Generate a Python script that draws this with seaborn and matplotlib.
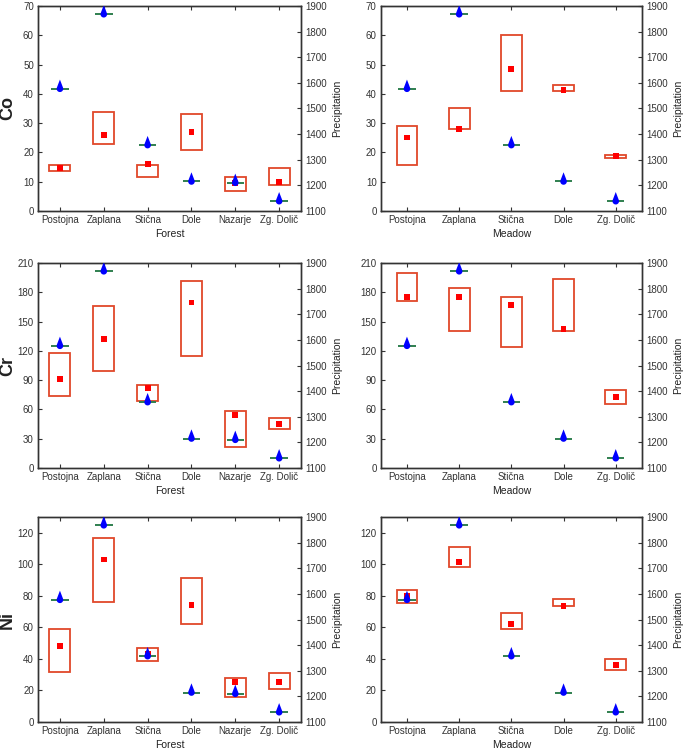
import numpy as np
import pandas as pd
import seaborn as sns
import matplotlib.pyplot as plt
from matplotlib.path import Path

# sites and precipitation (right axis)
sites_forest = ["Postojna", "Zaplana", "Stična", "Dole", "Nazarje", "Zg. Dolič"]
sites_meadow = ["Postojna", "Zaplana", "Stična", "Dole", "Zg. Dolič"]
precip_forest = [1577, 1868, 1357, 1215, 1210, 1138]
precip_meadow = [1577, 1868, 1357, 1215, 1138]

# Co
co_forest_low = [13.6, 22.7, 11.5, 20.7, 6.8, 8.8]
co_forest_high = [15.8, 33.9, 15.7, 33.0, 11.7, 14.8]
co_forest_mean = [14.7, 25.9, 15.9, 27.0, 9.5, 9.8]
co_meadow_low = [15.6, 27.9, 41.0, 41.0, 18.0]
co_meadow_high = [29.0, 35.0, 60.2, 43.0, 19.0]
co_meadow_mean = [25.1, 28.1, 48.6, 41.2, 18.9]

# Cr
cr_forest_low = [73.8, 99.5, 68.6, 114.3, 21.5, 40.0]
cr_forest_high = [117.7, 166.5, 85.1, 191.6, 58.8, 51.2]
cr_forest_mean = [91.0, 132.5, 82.0, 169.6, 54.1, 44.8]
cr_meadow_low = [170.7, 140.0, 124.3, 140.0, 66.0]
cr_meadow_high = [199.4, 184.7, 175.2, 193.3, 79.5]
cr_meadow_mean = [175.5, 175.5, 167.0, 142.4, 73.0]

# Ni
ni_forest_low = [31.5, 76.3, 38.9, 62.4, 16.0, 21.0]
ni_forest_high = [58.9, 116.6, 46.9, 91.6, 28.2, 31.2]
ni_forest_mean = [48.4, 103.1, 43.3, 74.1, 25.5, 25.2]
ni_meadow_low = [75.4, 98.3, 59.0, 73.3, 32.9]
ni_meadow_high = [83.5, 111.3, 69.0, 78.0, 40.0]
ni_meadow_mean = [80.0, 101.5, 62.0, 73.5, 36.1]

BOX = "#e0482a"
RED = "#ff0000"
GREEN = "#2f7f4f"
BLUE = "#0000ff"
SPINE = "#333333"

sns.set_theme(style="ticks")
plt.rcParams['font.family'] = ['Liberation Sans', 'DejaVu Sans']
plt.rcParams['axes.edgecolor'] = SPINE
plt.rcParams['axes.linewidth'] = 1.0
plt.rcParams['xtick.color'] = SPINE
plt.rcParams['ytick.color'] = SPINE
plt.rcParams['text.color'] = "#222222"
plt.rcParams['axes.labelcolor'] = "#222222"


def droplet(r=0.5, h=1.4):
    # teardrop: round bottom centred on the point, sharp tip on top
    t0 = np.arcsin(r / h)
    t = np.linspace(t0, -np.pi - t0, 40)
    verts = [(0, h)] + [(r * np.cos(a), r * np.sin(a)) for a in t] + [(0, h)]
    codes = [Path.MOVETO] + [Path.LINETO] * (len(verts) - 2) + [Path.CLOSEPOLY]
    return Path(verts, codes)


DROP = droplet()


def draw_panel(ax, sites, low, high, mean, precip, ymax, ystep, width, xlabel, ylabel):
    x = np.arange(len(sites))
    low = np.array(low)
    high = np.array(high)
    ax.bar(x, high - low, bottom=low, width=width, fill=False,
           edgecolor=BOX, linewidth=1.3, zorder=2)
    df = pd.DataFrame({"x": x, "mean": mean})
    sns.scatterplot(data=df, x="x", y="mean", marker="s", s=18, color=RED,
                    edgecolor="none", ax=ax, zorder=3, legend=False)
    ax.set_xlim(-0.5, len(sites) - 0.5)
    ax.set_ylim(0, ymax)
    ax.set_yticks(np.arange(0, ymax + 0.1, ystep))
    ax.set_xticks(x)
    ax.set_xticklabels(sites)
    ax.set_xlabel(xlabel, fontsize=7.5, labelpad=3)
    if ylabel:
        ax.set_ylabel(ylabel, fontsize=13, fontweight="bold")
        ax.yaxis.set_label_coords(-0.083, 0.5)
    else:
        ax.set_ylabel("")

    ax2 = ax.twinx()
    hw = 0.2 * width / 0.48
    ax2.hlines(precip, x - hw, x + hw, color=GREEN, linewidth=1.4, zorder=2)
    pdf = pd.DataFrame({"x": x, "p": precip})
    sns.scatterplot(data=pdf, x="x", y="p", marker=DROP, s=175, color=BLUE,
                    edgecolor="none", ax=ax2, zorder=3, legend=False)
    ax2.set_ylim(1100, 1900)
    ax2.set_yticks(np.arange(1100, 1901, 100))
    ax2.set_ylabel("Precipitation", fontsize=7.5, labelpad=4)
    ax2.set_xlim(-0.5, len(sites) - 0.5)

    ax.tick_params(axis="both", direction="in", length=3, width=0.8,
                   labelsize=7, pad=3)
    ax.tick_params(axis="x", top=True)
    ax2.tick_params(axis="y", direction="in", length=3, width=0.8,
                    labelsize=7, pad=3)
    return ax2


fig = plt.figure(figsize=(6.85, 7.56), dpi=100)

cols = [0.0555, 0.556]
widths = [0.384, 0.381]
rows = [0.721, 0.381, 0.045]
height = 0.271

panels = [
    ("Co", 70, 10,
     (co_forest_low, co_forest_high, co_forest_mean),
     (co_meadow_low, co_meadow_high, co_meadow_mean)),
    ("Cr", 210, 30,
     (cr_forest_low, cr_forest_high, cr_forest_mean),
     (cr_meadow_low, cr_meadow_high, cr_meadow_mean)),
    ("Ni", 130, 20,
     (ni_forest_low, ni_forest_high, ni_forest_mean),
     (ni_meadow_low, ni_meadow_high, ni_meadow_mean)),
]

for r, (metal, ymax, ystep, forest, meadow) in enumerate(panels):
    axl = fig.add_axes([cols[0], rows[r], widths[0], height])
    draw_panel(axl, sites_forest, *forest, precip_forest, ymax, ystep, 0.48,
               "Forest", metal)
    axr = fig.add_axes([cols[1], rows[r], widths[1], height])
    draw_panel(axr, sites_meadow, *meadow, precip_meadow, ymax, ystep, 0.40,
               "Meadow", None)
    if metal == "Ni":
        axl.set_yticks(np.arange(0, 121, 20))
        axr.set_yticks(np.arange(0, 121, 20))

fig.savefig("out.png", dpi=100)
